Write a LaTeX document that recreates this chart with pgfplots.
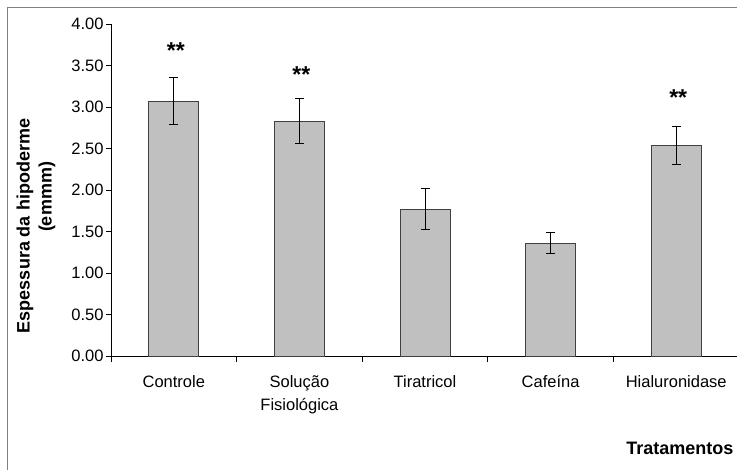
\documentclass[border=0pt]{standalone}
\usepackage{fontspec}
\setmainfont{Liberation Sans}
\usepackage{pgfplots}
\pgfplotsset{compat=1.18}
\definecolor{barfill}{HTML}{C0C0C0}
\definecolor{frame}{HTML}{808080}
\pgfplotstableread{
x y e
0 3.07 0.28
1 2.83 0.27
2 1.77 0.25
3 1.36 0.13
4 2.54 0.23
}\datatab
\begin{document}
\begin{tikzpicture}[x=1pt,y=1pt]
\clip (0,0) rectangle (737,470);
\draw[frame, line width=1.5pt] (7.5,-5) -- (7.5,462.5) -- (745,462.5);
\begin{axis}[
  at={(111pt,114pt)}, anchor=south west,
  scale only axis, width=628pt, height=332pt,
  xmin=-0.5, xmax=4.5, ymin=0, ymax=4,
  axis lines=left, axis line style={-, black, line width=0.8pt},
  tick align=outside,
  ytick={0,0.5,...,4},
  yticklabel style={/pgf/number format/.cd, fixed, fixed zerofill, precision=2, /tikz/.cd, xshift=1pt},
  /pgf/number format/assume math mode=true,
  ticklabel style={font=\fontsize{16.5}{23}\selectfont},
  major tick length=5pt,
  xtick={0,1,2,3,4},
  xticklabels={Controle,{Solução\\Fisiológica},Tiratricol,Cafeína,Hialuronidase},
  xticklabel style={align=center, yshift=-11pt},
  x tick style={draw=none},
  minor xtick={-0.5,0.5,1.5,2.5,3.5,4.5},
  minor x tick style={draw=black, line width=0.8pt},
  minor tick length=6pt,
  y tick style={black, line width=0.8pt},
  clip=false,
]
\addplot[ybar, bar width=50pt, fill=barfill, draw=black!75, line width=0.9pt,
  error bars/.cd, y dir=both, y explicit,
  error bar style={black, line width=1pt},
  error mark options={rotate=90, mark size=4.5pt, line width=1pt, black}]
  table[x=x, y=y, y error=e]{\datatab};
\addplot[only marks, mark=none, nodes near coords={\textbf{**}},
  nodes near coords align=center,
  every node near coord/.append style={font=\fontsize{23}{25}\selectfont, anchor=center, xshift=2pt}]
  coordinates {(0,3.68) (1,3.39) (4,3.11)};
\end{axis}
\node[rotate=90, font=\bfseries\fontsize{18}{20}\selectfont] at (25,244) {Espessura da hipoderme};
\node[rotate=90, font=\bfseries\fontsize{18}{20}\selectfont] at (47,273) {(emmm)};
\node[anchor=east, font=\bfseries\fontsize{18}{20}\selectfont] at (737,22) {Tratamentos};
\end{tikzpicture}
\end{document}
